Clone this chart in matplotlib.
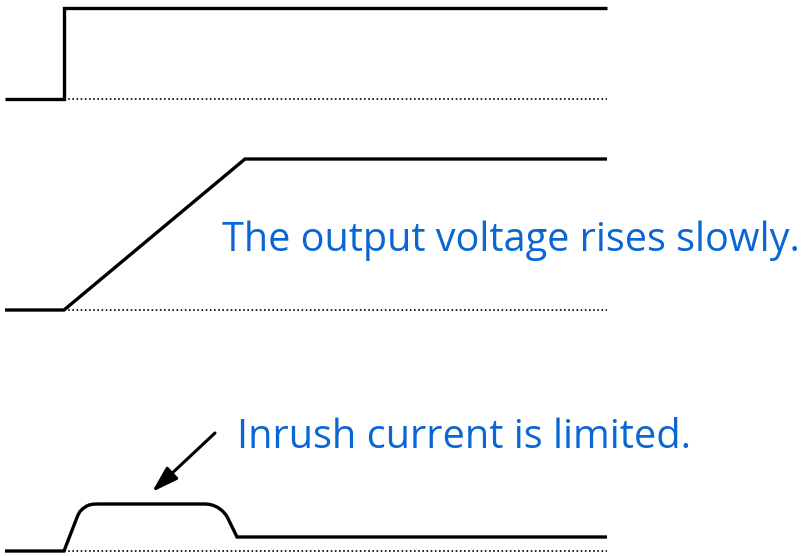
import matplotlib.pyplot as plt

# Waveform 1: input step
step_x = [5, 64, 64, 607]
step_y = [99, 99, 8, 8]
step_base = 99

# Waveform 2: output voltage soft ramp
ramp_x = [5, 64, 245, 607]
ramp_y = [310, 310, 159, 159]
ramp_base = 310

# Waveform 3: inrush current
cur_x = [5, 64, 76, 78, 80, 83, 86, 89, 93, 97, 205, 209, 213, 217, 220, 223, 226, 228, 237, 607]
cur_y = [551, 551, 520, 515, 511.5, 508.5, 506.5, 505, 504.2, 504, 504, 504.3, 505.3, 507, 509, 511.5, 515, 518.5, 537, 537]
cur_base = 551

dot_start, dot_end = 64, 607

label_ramp = "The output voltage rises slowly."
label_cur = "Inrush current is limited."
blue = "#0a66d4"

fig = plt.figure(figsize=(8.08, 5.56), dpi=100)
ax = fig.add_axes([0, 0, 1, 1])
ax.set_xlim(0, 808)
ax.set_ylim(556, 0)
ax.axis("off")

for xs, ys, base in [(step_x, step_y, step_base), (ramp_x, ramp_y, ramp_base), (cur_x, cur_y, cur_base)]:
    ax.plot([dot_start, dot_end], [base, base], color="black", lw=1.2, ls=(0, (1, 1.5)))
    ax.plot(xs, ys, color="black", lw=2.4, solid_joinstyle="miter", solid_capstyle="butt")

ax.text(222, 251, label_ramp, color=blue, fontsize=28.5, family="Open Sans", va="baseline", ha="left")
ax.text(237, 448, label_cur, color=blue, fontsize=28.6, family="Open Sans", va="baseline", ha="left")

ax.annotate("", xy=(152, 492), xytext=(215, 433),
            arrowprops=dict(arrowstyle="-|>,head_length=1.6,head_width=0.5", color="black", lw=2.2,
                            shrinkA=0, shrinkB=0))

fig.savefig("out.png", dpi=100)
